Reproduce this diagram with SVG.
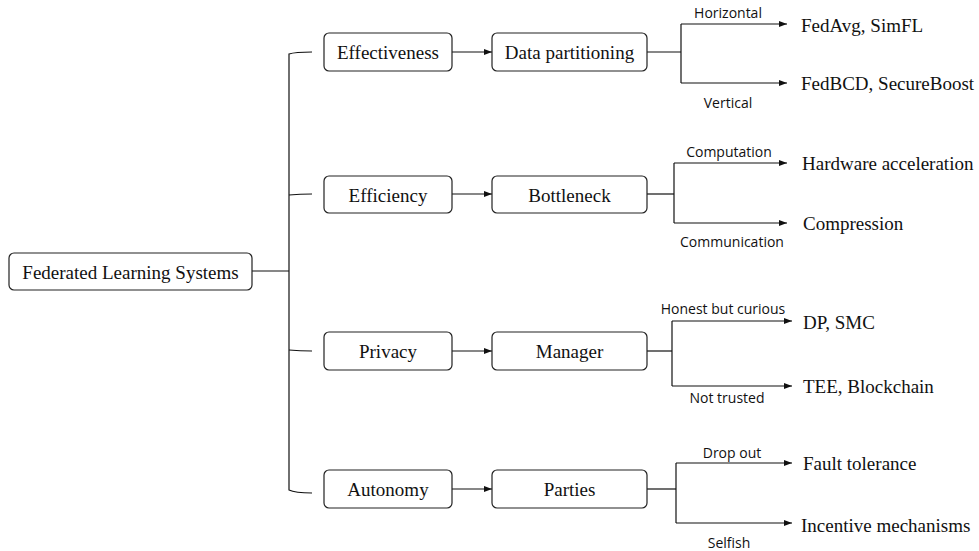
<svg xmlns="http://www.w3.org/2000/svg" width="979" height="551" viewBox="0 0 979 551">
<style>
.box{fill:#fff;stroke:#222;stroke-width:1.2}
.t{font-family:"Liberation Serif","Times New Roman",serif;font-size:19px;fill:#111;text-anchor:middle;dominant-baseline:central}
.r{font-family:"Liberation Serif","Times New Roman",serif;font-size:19px;fill:#111;dominant-baseline:central}
.l{font-family:"Open Sans","Noto Sans",sans-serif;font-size:14px;fill:#111;text-anchor:middle;dominant-baseline:central}
.c{fill:none;stroke:#111;stroke-width:1.2}
</style>
<defs>
<marker id="ah" markerWidth="8" markerHeight="6" refX="8" refY="3" orient="auto" markerUnits="userSpaceOnUse">
<path d="M0,0 L8,3 L0,6 Z" fill="#111"/>
</marker>
</defs>
<g id="connectors">
<path class="c" d="M252,271 H289"/>
<path class="c" d="M312,52 Q295,52 289,54 V490 Q295,493 312,493"/>
<path class="c" d="M289,195 Q300,194 312,194"/>
<path class="c" d="M289,350 Q300,351 312,351"/>
<path class="c" d="M452,52 H492" marker-end="url(#ah)"/>
<path class="c" d="M452,194 H492" marker-end="url(#ah)"/>
<path class="c" d="M452,351 H492" marker-end="url(#ah)"/>
<path class="c" d="M452,489 H492" marker-end="url(#ah)"/>
<path class="c" d="M647,52 H681"/>
<path class="c" d="M681,24 V83"/>
<path class="c" d="M681,24 H787" marker-end="url(#ah)"/>
<path class="c" d="M681,83 H787" marker-end="url(#ah)"/>
<path class="c" d="M647,194 H674"/>
<path class="c" d="M674,163 V223"/>
<path class="c" d="M674,163 H787" marker-end="url(#ah)"/>
<path class="c" d="M674,223 H787" marker-end="url(#ah)"/>
<path class="c" d="M647,351 H672"/>
<path class="c" d="M672,321 V386"/>
<path class="c" d="M672,321 H792" marker-end="url(#ah)"/>
<path class="c" d="M672,386 H792" marker-end="url(#ah)"/>
<path class="c" d="M647,489 H676"/>
<path class="c" d="M676,463 V523"/>
<path class="c" d="M676,463 H792" marker-end="url(#ah)"/>
<path class="c" d="M676,523 H792" marker-end="url(#ah)"/>
<text class="l" x="728" y="12">Horizontal</text>
<text class="l" x="728" y="102">Vertical</text>
<text class="l" x="729" y="151">Computation</text>
<text class="l" x="732" y="241">Communication</text>
<text class="l" x="723" y="308">Honest but curious</text>
<text class="l" x="727" y="397">Not trusted</text>
<text class="l" x="732" y="452">Drop out</text>
<text class="l" x="729" y="542">Selfish</text>
</g>
<g id="root"><rect class="box" x="9" y="253" width="243" height="37" rx="5"/><text class="t" x="130.5" y="272">Federated Learning Systems</text></g>
<g id="effectiveness"><rect class="box" x="324" y="33" width="128" height="38" rx="5"/><text class="t" x="388" y="52">Effectiveness</text></g>
<g id="data-partitioning"><rect class="box" x="492" y="33" width="155" height="38" rx="5"/><text class="t" x="569.5" y="52">Data partitioning</text></g>
<g id="efficiency"><rect class="box" x="324" y="176" width="128" height="37" rx="5"/><text class="t" x="388" y="195">Efficiency</text></g>
<g id="bottleneck"><rect class="box" x="492" y="176" width="155" height="37" rx="5"/><text class="t" x="569.5" y="195">Bottleneck</text></g>
<g id="privacy"><rect class="box" x="324" y="332" width="128" height="38" rx="5"/><text class="t" x="388" y="351">Privacy</text></g>
<g id="manager"><rect class="box" x="492" y="332" width="155" height="38" rx="5"/><text class="t" x="569.5" y="351">Manager</text></g>
<g id="autonomy"><rect class="box" x="324" y="470" width="128" height="38" rx="5"/><text class="t" x="388" y="489">Autonomy</text></g>
<g id="parties"><rect class="box" x="492" y="470" width="155" height="38" rx="5"/><text class="t" x="569.5" y="489">Parties</text></g>
<g id="fedavg"><text class="r" x="801" y="25">FedAvg, SimFL</text></g>
<g id="fedbcd"><text class="r" x="801" y="83">FedBCD, SecureBoost</text></g>
<g id="hardware"><text class="r" x="802" y="163">Hardware acceleration</text></g>
<g id="compression"><text class="r" x="803" y="223">Compression</text></g>
<g id="dp"><text class="r" x="803" y="322">DP, SMC</text></g>
<g id="tee"><text class="r" x="803" y="386">TEE, Blockchain</text></g>
<g id="fault"><text class="r" x="803" y="463">Fault tolerance</text></g>
<g id="incentive"><text class="r" x="801" y="525">Incentive mechanisms</text></g>
</svg>
